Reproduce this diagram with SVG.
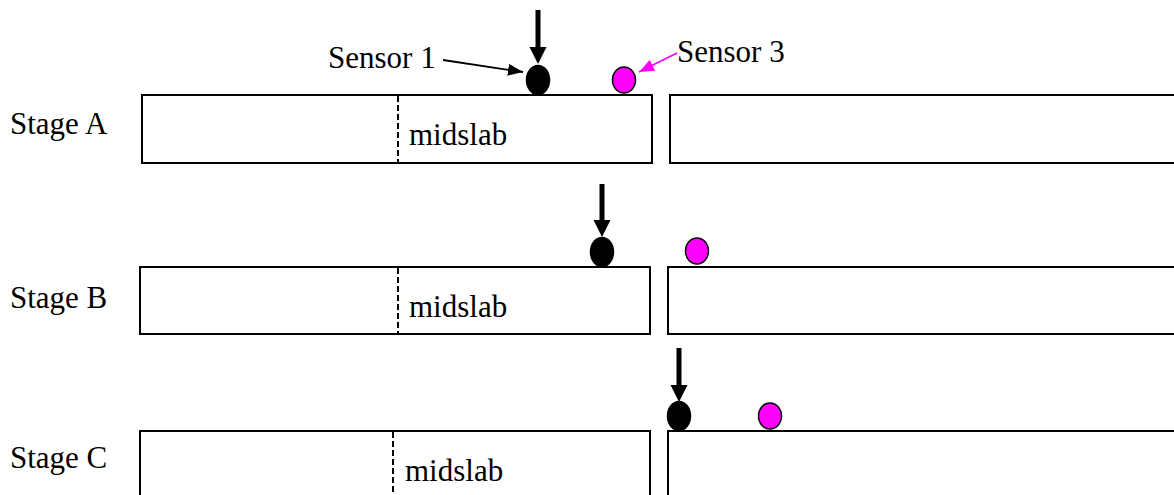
<svg xmlns="http://www.w3.org/2000/svg" width="1174" height="495" viewBox="0 0 1174 495">
  <style>
    .slab { fill: #ffffff; stroke: #000000; stroke-width: 2; }
    .mid { stroke: #000000; stroke-width: 2; stroke-dasharray: 6 3; fill: none; }
    .lbl { font-family: "Times New Roman", Times, "Liberation Serif", "Nimbus Roman", "DejaVu Serif", serif; font-size: 31px; fill: #000000; }
    .s1 { fill: #000000; stroke: #000000; stroke-width: 1.5; }
    .s3 { fill: #ff00ff; stroke: #000000; stroke-width: 1.5; }
    .load { stroke: #000000; stroke-width: 5; fill: none; }
    .head { fill: #000000; stroke: none; }
  </style>
  <defs>
    <marker id="blackHead" markerUnits="userSpaceOnUse" markerWidth="16" markerHeight="14" refX="15" refY="6" orient="auto">
      <path d="M0,0 L15,6 L0,12 Z" fill="#000000"/>
    </marker>
    <marker id="magentaHead" markerUnits="userSpaceOnUse" markerWidth="16" markerHeight="14" refX="15" refY="6" orient="auto">
      <path d="M0,0 L15,6 L0,12 Z" fill="#ff00ff"/>
    </marker>
  </defs>

  <!-- Stage A -->
  <g id="stageA">
    <text class="lbl" x="10" y="134">Stage A</text>
    <rect class="slab" x="142" y="95" width="510" height="68"/>
    <line class="mid" x1="398" y1="96" x2="398" y2="162"/>
    <text class="lbl" x="409" y="145">midslab</text>
    <rect class="slab" x="670" y="95" width="520" height="68"/>
    <ellipse id="sensor1A" class="s1" cx="538" cy="80" rx="11.5" ry="14.5"/>
    <ellipse id="sensor3A" class="s3" cx="624" cy="80" rx="11.5" ry="13"/>
    <text class="lbl" x="328" y="68">Sensor 1</text>
    <text class="lbl" x="677" y="62">Sensor 3</text>
  </g>

  <!-- Stage B -->
  <g id="stageB">
    <text class="lbl" x="10" y="308">Stage B</text>
    <rect class="slab" x="140" y="267" width="510" height="67"/>
    <line class="mid" x1="398" y1="268" x2="398" y2="333"/>
    <text class="lbl" x="409" y="317">midslab</text>
    <rect class="slab" x="668" y="267" width="520" height="67"/>
    <ellipse id="sensor1B" class="s1" cx="602" cy="252" rx="11.5" ry="14.5"/>
    <ellipse id="sensor3B" class="s3" cx="697" cy="251" rx="11.5" ry="13"/>
  </g>

  <!-- Stage C -->
  <g id="stageC">
    <text class="lbl" x="10" y="468">Stage C</text>
    <rect class="slab" x="140" y="431" width="510" height="80"/>
    <line class="mid" x1="393" y1="432" x2="393" y2="495"/>
    <text class="lbl" x="405" y="481">midslab</text>
    <rect class="slab" x="668" y="431" width="520" height="80"/>
    <ellipse id="sensor1C" class="s1" cx="679" cy="416" rx="11.5" ry="14.5"/>
    <ellipse id="sensor3C" class="s3" cx="770" cy="416" rx="11.5" ry="13"/>
  </g>

  <!-- load arrows and sensor callouts -->
  <g id="connectors">
    <line class="load" x1="538" y1="10" x2="538" y2="48"/>
    <polygon class="head" points="529.5,47 546.5,47 538,64"/>
    <line class="load" x1="602" y1="184" x2="602" y2="221"/>
    <polygon class="head" points="593.5,220 610.5,220 602,237"/>
    <line class="load" x1="679" y1="348" x2="679" y2="386"/>
    <polygon class="head" points="670.5,385 687.5,385 679,402"/>
    <line x1="443" y1="60" x2="523" y2="72" stroke="#000000" stroke-width="1.8" marker-end="url(#blackHead)"/>
    <line x1="677" y1="53" x2="639" y2="72" stroke="#ff00ff" stroke-width="1.8" marker-end="url(#magentaHead)"/>
  </g>
</svg>
